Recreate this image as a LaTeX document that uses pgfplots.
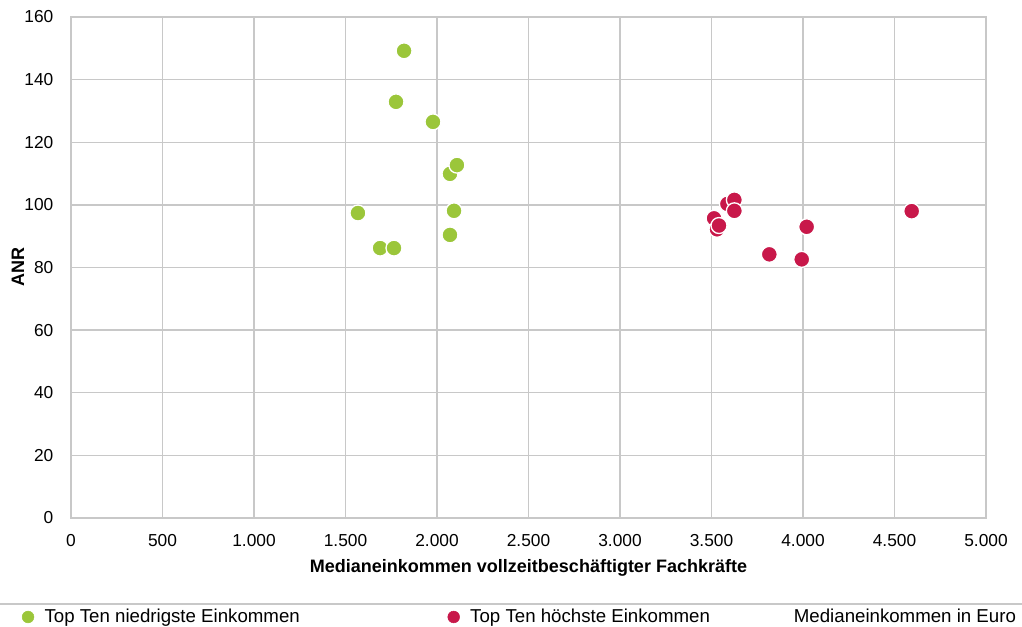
\documentclass[border=0pt]{standalone}
\usepackage{pgfplots}
\pgfplotsset{compat=1.18}
\usepackage{fontspec}
\setmainfont{Liberation Sans}
\definecolor{lgreen}{RGB}{155,198,58}
\definecolor{lred}{RGB}{200,24,74}
\definecolor{gridgray}{RGB}{200,200,200}
\begin{document}
\begin{tikzpicture}
\begin{axis}[name=ax, at={(53.25pt,81.75pt)}, anchor=south west,
  scale only axis, width=686.25pt, height=375.75pt,
  xmin=0, xmax=5000, ymin=0, ymax=160,
  xtick={0,500,...,5000}, ytick={0,20,...,160},
  grid=major, major grid style={gridgray, line width=1.1pt},
  axis line style={gridgray, line width=1.1pt},
  major tick length=0pt,
  tick label style={font=\fontsize{13}{15}\selectfont, black},
  xticklabel style={yshift=-9pt},
  yticklabel style={xshift=-9.75pt},
  /pgf/number format/1000 sep={.},
  /pgf/number format/assume math mode=true,
  xlabel={\bfseries Medianeinkommen vollzeitbeschäftigter Fachkräfte},
  ylabel={\bfseries ANR},
  label style={font=\fontsize{13.5}{15}\selectfont},
  xlabel style={at={(axis description cs:0.5,-0.0998)}, anchor=center},
  ylabel style={at={(axis description cs:-0.0579,0.5)}, anchor=center},
  legend image code/.code={\draw[mark repeat=1,#1] plot coordinates {(0pt,0pt)};},
  legend columns=3,
  legend style={at={(axis description cs:-0.058,-0.1976)}, anchor=west, draw=none, fill=none,
    font=\fontsize{14}{16}\selectfont,
    /tikz/column 1/.style={column sep=6pt},
    /tikz/column 2/.style={column sep=109pt},
    /tikz/column 3/.style={column sep=6pt},
    /tikz/column 4/.style={column sep=59pt}},
  legend cell align=left,
]
\addplot[only marks, mark=*, mark size=6pt, mark options={fill=lgreen, draw=white, line width=1pt},
  forget plot] coordinates {
(1820,149.2) (1776,132.9) (1978,126.5) (2071,109.9) (2109,112.7)
(1568,97.4) (2093,98.1) (2071,90.4) (1689,86.2) (1765,86.2)};
\addplot[only marks, mark=*, mark size=6pt, mark options={fill=lred, draw=white, line width=1pt},
  forget plot] coordinates {
(3587,100.3) (3625,101.6) (3625,98.1) (3514,95.7) (3530,92.2) (3541,93.4)
(4020,93.0) (4594,98.0) (3816,84.2) (3993,82.6)};
\addlegendimage{only marks, mark=*, mark size=4.4pt, lgreen, mark options={fill=lgreen, draw=lgreen}}
\addlegendentry{Top Ten niedrigste Einkommen}
\addlegendimage{only marks, mark=*, mark size=4.4pt, lred, mark options={fill=lred, draw=lred}}
\addlegendentry{Top Ten höchste Einkommen}
\addlegendimage{empty legend}
\addlegendentry{Medianeinkommen in Euro}
\end{axis}
\draw[gridgray, line width=1.1pt] (0pt,17.25pt) -- (766.5pt,17.25pt);
\pgfresetboundingbox
\path (0pt,0pt) rectangle (766.5pt,470.25pt);
\end{tikzpicture}
\end{document}
